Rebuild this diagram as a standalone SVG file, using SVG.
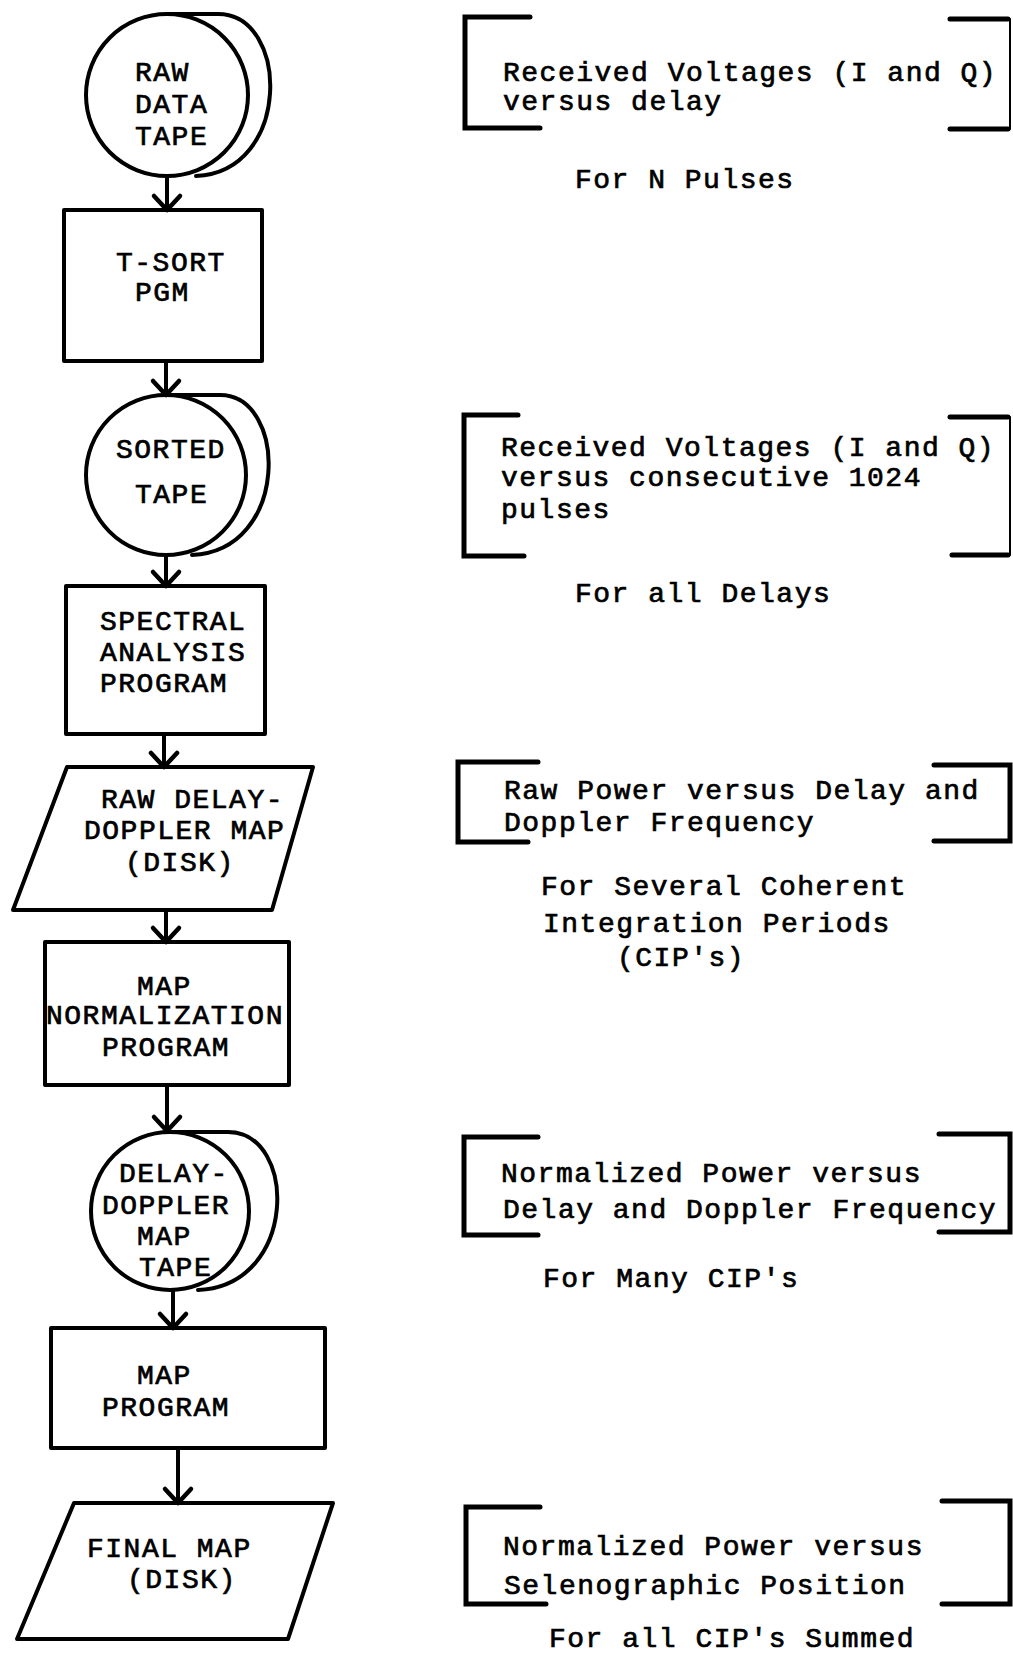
<svg xmlns="http://www.w3.org/2000/svg" width="1013" height="1654" viewBox="0 0 1013 1654">
<style>
.shape{fill:none;stroke:#000;stroke-width:4;stroke-linejoin:round;stroke-linecap:round}
.br{fill:none;stroke:#000;stroke-width:5;stroke-linejoin:miter;stroke-linecap:round}
.thin{stroke-width:2}
.t{font-family:"Liberation Mono","Courier New",monospace;font-size:28px;letter-spacing:1.5px;fill:#000;stroke:#000;stroke-width:0.7}
.conn line{stroke:#000;stroke-width:4}
</style>
<defs>
<marker id="arr" viewBox="-18 -18 22 36" refX="0" refY="0" markerWidth="22" markerHeight="36" markerUnits="userSpaceOnUse" orient="auto">
<path d="M-14,-13 L0,0 L-14,13" fill="none" stroke="#000" stroke-width="4.5" stroke-linecap="round" stroke-linejoin="round"/>
</marker>
</defs>
<rect width="1013" height="1654" fill="#fff"/>

<g id="raw-data-tape">
<circle class="shape" cx="167" cy="95" r="81"/>
<path class="shape" d="M167,14 L218,14 C290,14 292,172 196,176"/>
<text class="t" x="135" y="81">RAW</text>
<text class="t" x="135" y="113">DATA</text>
<text class="t" x="135" y="145">TAPE</text>
</g>

<g id="t-sort-pgm">
<rect class="shape" x="64" y="210" width="198" height="151"/>
<text class="t" x="116" y="271">T-SORT</text>
<text class="t" x="135" y="301">PGM</text>
</g>

<g id="sorted-tape">
<circle class="shape" cx="166" cy="475" r="80"/>
<path class="shape" d="M166,395 L220,395 C288,395 290,551 192,555"/>
<text class="t" x="116" y="458">SORTED</text>
<text class="t" x="135" y="503">TAPE</text>
</g>

<g id="spectral-analysis">
<rect class="shape" x="66" y="586" width="199" height="148"/>
<text class="t" x="100" y="630">SPECTRAL</text>
<text class="t" x="100" y="661">ANALYSIS</text>
<text class="t" x="100" y="692">PROGRAM</text>
</g>

<g id="raw-delay-doppler-map">
<polygon class="shape" points="67,767 313,767 272,910 13,910"/>
<text class="t" x="101" y="808">RAW DELAY-</text>
<text class="t" x="84" y="839">DOPPLER MAP</text>
<text class="t" x="125" y="871">(DISK)</text>
</g>

<g id="map-normalization">
<rect class="shape" x="45" y="942" width="244" height="143"/>
<text class="t" x="137" y="995">MAP</text>
<text class="t" x="46" y="1024">NORMALIZATION</text>
<text class="t" x="102" y="1056">PROGRAM</text>
</g>

<g id="delay-doppler-map-tape">
<circle class="shape" cx="170" cy="1211" r="79"/>
<path class="shape" d="M170,1132 L228,1132 C298,1132 298,1286 198,1290"/>
<text class="t" x="119" y="1182">DELAY-</text>
<text class="t" x="102" y="1214">DOPPLER</text>
<text class="t" x="137" y="1245">MAP</text>
<text class="t" x="139" y="1276">TAPE</text>
</g>

<g id="map-program">
<rect class="shape" x="51" y="1328" width="274" height="120"/>
<text class="t" x="137" y="1384">MAP</text>
<text class="t" x="102" y="1416">PROGRAM</text>
</g>

<g id="final-map">
<polygon class="shape" points="74,1503 333,1503 288,1639 17,1639"/>
<text class="t" x="87" y="1557">FINAL MAP</text>
<text class="t" x="127" y="1588">(DISK)</text>
</g>

<g id="connectors" class="conn">
<line x1="167" y1="176" x2="167" y2="210" marker-end="url(#arr)"/>
<line x1="166" y1="361" x2="166" y2="395" marker-end="url(#arr)"/>
<line x1="166" y1="555" x2="166" y2="586" marker-end="url(#arr)"/>
<line x1="164" y1="734" x2="164" y2="767" marker-end="url(#arr)"/>
<line x1="166" y1="910" x2="166" y2="942" marker-end="url(#arr)"/>
<line x1="167" y1="1085" x2="167" y2="1131" marker-end="url(#arr)"/>
<line x1="173" y1="1290" x2="173" y2="1328" marker-end="url(#arr)"/>
<line x1="178" y1="1448" x2="178" y2="1503" marker-end="url(#arr)"/>
</g>

<g id="note-1">
<path class="br" d="M530,17 L465,17 L465,128 L540,128"/>
<path class="br" d="M950,19 L1008,19 M1008,129 L950,129"/>
<path class="br thin" d="M1010,19 L1010,129"/>
<text class="t" x="503" y="81">Received Voltages (I and Q)</text>
<text class="t" x="503" y="110">versus delay</text>
<text class="t" x="575" y="188">For N Pulses</text>
</g>

<g id="note-2">
<path class="br" d="M518,415 L464,415 L464,556 L524,556"/>
<path class="br" d="M950,417 L1008,417 M1008,555 L952,555"/>
<path class="br thin" d="M1010,417 L1010,555"/>
<text class="t" x="501" y="456">Received Voltages (I and Q)</text>
<text class="t" x="501" y="486">versus consecutive 1024</text>
<text class="t" x="501" y="518">pulses</text>
<text class="t" x="575" y="602">For all Delays</text>
</g>

<g id="note-3">
<path class="br" d="M538,762 L458,762 L458,842 L528,842"/>
<path class="br" d="M934,765 L1010,765 L1010,841 L934,841"/>
<text class="t" x="504" y="799">Raw Power versus Delay and</text>
<text class="t" x="504" y="831">Doppler Frequency</text>
<text class="t" x="541" y="895">For Several Coherent</text>
<text class="t" x="543" y="932">Integration Periods</text>
<text class="t" x="617" y="966">(CIP's)</text>
</g>

<g id="note-4">
<path class="br" d="M538,1137 L464,1137 L464,1235 L538,1235"/>
<path class="br" d="M939,1134 L1010,1134 L1010,1232 L939,1232"/>
<text class="t" x="501" y="1182">Normalized Power versus</text>
<text class="t" x="503" y="1218">Delay and Doppler Frequency</text>
<text class="t" x="543" y="1287">For Many CIP's</text>
</g>

<g id="note-5">
<path class="br" d="M540,1507 L466,1507 L466,1604 L546,1604"/>
<path class="br" d="M942,1501 L1010,1501 L1010,1604 L942,1604"/>
<text class="t" x="503" y="1555">Normalized Power versus</text>
<text class="t" x="504" y="1594">Selenographic Position</text>
<text class="t" x="549" y="1647">For all CIP's Summed</text>
</g>
</svg>
